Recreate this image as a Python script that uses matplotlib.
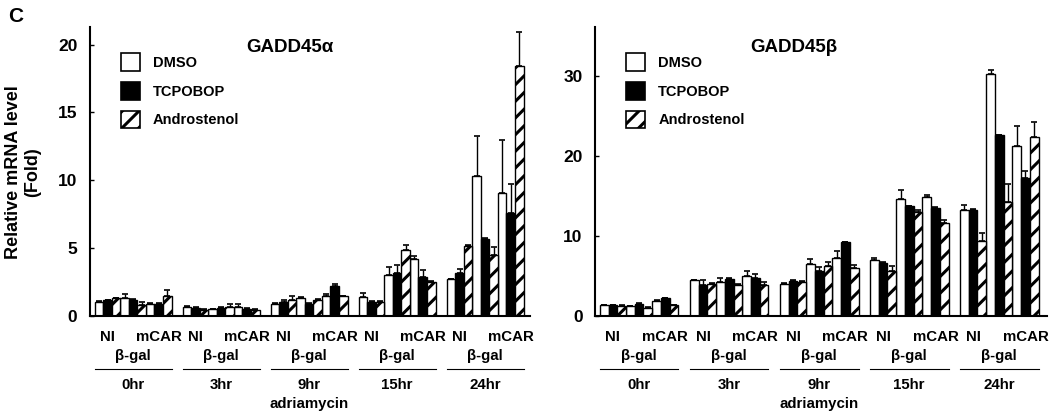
import numpy as np
import matplotlib
matplotlib.use("Agg")
import matplotlib.pyplot as plt
from matplotlib.patches import Patch

plt.rcParams['font.family'] = ['Liberation Sans', 'DejaVu Sans']
plt.rcParams['font.weight'] = 'bold'
plt.rcParams['hatch.linewidth'] = 2.2

# data
times = ["0hr", "3hr", "9hr", "15hr", "24hr"]
conditions = ["NI", "β-gal", "mCAR"]
treatments = ["DMSO", "TCPOBOP", "Androstenol"]

# GADD45 alpha (time-major, NI / beta-gal / mCAR inside each time)
a_dmso = [1.05, 1.3, 0.9, 0.7, 0.5, 0.65, 0.9, 1.35, 1.5, 1.4, 3.0, 4.2, 2.7, 10.3, 9.1]
a_tc = [1.15, 1.2, 0.9, 0.6, 0.6, 0.55, 1.0, 0.9, 2.2, 1.05, 3.15, 2.9, 3.15, 5.7, 7.6]
a_and = [1.3, 0.8, 1.5, 0.45, 0.7, 0.45, 1.2, 1.15, 1.45, 1.05, 4.9, 2.5, 5.15, 4.5, 18.4]
a_dmso_err = [0.05, 0.3, 0.05, 0.05, 0.05, 0.2, 0.05, 0.05, 0.15, 0.3, 0.6, 0.2, 0.05, 3.0, 3.9]
a_tc_err = [0.05, 0.05, 0.05, 0.05, 0.05, 0.05, 0.2, 0.05, 0.15, 0.05, 0.6, 0.5, 0.3, 0.05, 2.1]
a_and_err = [0.05, 0.2, 0.4, 0.05, 0.15, 0.05, 0.25, 0.1, 0.05, 0.05, 0.3, 0.1, 0.05, 0.6, 2.5]

# GADD45 beta
b_dmso = [1.33, 1.2, 1.85, 4.45, 4.2, 5.0, 4.05, 6.55, 7.3, 7.0, 14.6, 14.9, 13.2, 30.2, 21.2]
b_tc = [1.33, 1.5, 2.2, 3.85, 4.6, 4.7, 4.4, 5.65, 9.2, 6.6, 13.7, 13.5, 13.3, 22.6, 17.3]
b_and = [1.3, 1.05, 1.33, 4.05, 3.85, 3.85, 4.3, 6.3, 5.95, 5.6, 13.0, 11.6, 9.4, 14.3, 22.4]
b_dmso_err = [0.05, 0.05, 0.1, 0.1, 0.5, 0.6, 0.1, 0.55, 0.85, 0.3, 1.1, 0.2, 0.7, 0.5, 2.5]
b_tc_err = [0.05, 0.1, 0.1, 0.65, 0.1, 0.6, 0.1, 0.5, 0.05, 0.1, 0.05, 0.1, 0.05, 0.05, 0.8]
b_and_err = [0.05, 0.1, 0.05, 0.1, 0.1, 0.35, 0.05, 0.5, 0.45, 0.65, 0.3, 0.4, 1.0, 2.2, 1.8]

W, H = 1050, 413
fig = plt.figure(figsize=(W / 100, H / 100), dpi=100)

top_px, bot_px = 27, 316
ax1 = fig.add_axes([90 / W, 1 - bot_px / H, 440 / W, (bot_px - top_px) / H])
ax2 = fig.add_axes([595 / W, 1 - bot_px / H, 452 / W, (bot_px - top_px) / H])

styles = [dict(color="white", hatch=None),
          dict(color="black", hatch=None),
          dict(color="white", hatch="//")]

w = 0.097
lab_fs = 10.8


def draw(ax, series, errs, title, ylim, yticks, xlim, legend_xy, title_x):
    for t, (vals, err, st) in enumerate(zip(series, errs, styles)):
        vals = np.array(vals)
        err = np.array(err)
        x = np.array([g + (c * 3 + t - 4) * w for g in range(5) for c in range(3)])
        ax.bar(x, vals, width=w, color=st["color"], edgecolor="black",
               hatch=st["hatch"], linewidth=1.0, zorder=2)
        ax.errorbar(x, vals, yerr=[np.zeros_like(err), err], fmt="none",
                    ecolor="black", elinewidth=1.0, capsize=2, capthick=1.2, zorder=3)

    ax.set_ylim(*ylim)
    ax.set_xlim(*xlim)
    ax.set_yticks(yticks)
    ax.set_xticks([])
    for s in ["top", "right"]:
        ax.spines[s].set_visible(False)
    for s in ["left", "bottom"]:
        ax.spines[s].set_linewidth(1.5)
    ax.tick_params(axis="y", direction="in", length=3, width=1, labelsize=12.5, pad=9)
    for lab in ax.get_yticklabels():
        lab.set_fontweight("bold")

    ax.text(title_x, 0.93, title, transform=ax.transAxes, ha="center", va="center",
            fontsize=13.5, fontweight="bold")

    handles = [Patch(facecolor=st["color"], edgecolor="black", hatch=st["hatch"], linewidth=1.2)
               for st in styles]
    ax.legend(handles, treatments, loc="upper left", bbox_to_anchor=legend_xy,
              frameon=False, handlelength=1.3, handleheight=1.5,
              handletextpad=0.9, labelspacing=0.75, prop={"weight": "bold", "size": 10.5})

    tr = ax.get_xaxis_transform()
    hpx = bot_px - top_px

    def yf(py):
        return -(py - bot_px) / hpx

    for g, name in enumerate(times):
        ax.text(g - 3 * w, yf(337), "NI", transform=tr, ha="center", va="center", fontsize=lab_fs)
        ax.text(g + 3 * w, yf(337), "mCAR", transform=tr, ha="center", va="center", fontsize=lab_fs)
        ax.text(g, yf(356), "β-gal", transform=tr, ha="center", va="center", fontsize=lab_fs)
        ax.plot([g - 4.5 * w, g + 4.5 * w], [yf(369), yf(369)], transform=tr,
                color="black", linewidth=0.8, clip_on=False)
        ax.text(g, yf(385), name, transform=tr, ha="center", va="center", fontsize=lab_fs)
    ax.text(2, yf(404), "adriamycin", transform=tr, ha="center", va="center", fontsize=lab_fs)


draw(ax1, [a_dmso, a_tc, a_and], [a_dmso_err, a_tc_err, a_and_err], "GADD45α",
     (0, 21.3), [0, 5, 10, 15, 20], (-0.49, 4.51), (0.04, 0.955), 0.455)
draw(ax2, [b_dmso, b_tc, b_and], [b_dmso_err, b_tc_err, b_and_err], "GADD45β",
     (0, 36.1), [0, 10, 20, 30], (-0.49, 4.53), (0.04, 0.955), 0.44)

fig.text(23 / W, 1 - 172 / H, "Relative mRNA level\n(Fold)", rotation=90,
         fontsize=13, fontweight="bold", ha="center", va="center", multialignment="center")
fig.text(8 / W, 1 - 16 / H, "C", fontsize=15, fontweight="bold", va="center", ha="left")

fig.savefig("out.png", dpi=100)
